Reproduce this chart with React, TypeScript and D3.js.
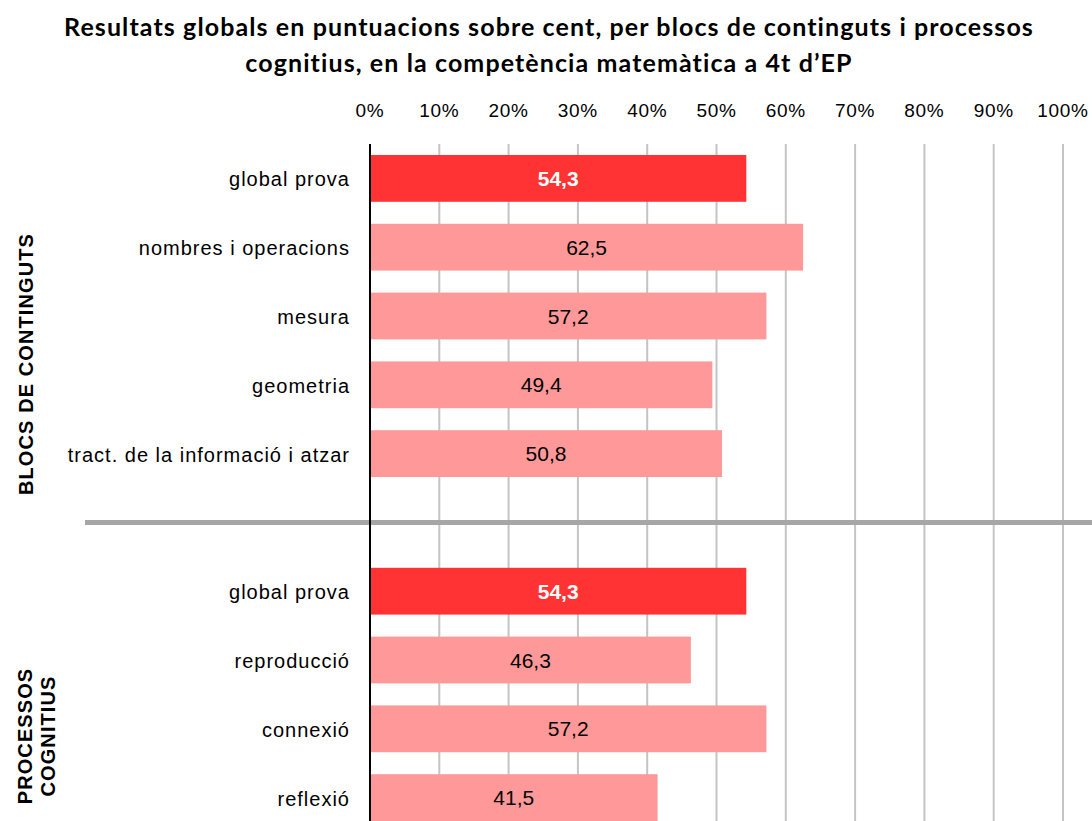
import React, { useEffect, useRef } from 'react';
import * as d3 from 'd3';

const titleLines = [
  'Resultats globals en puntuacions sobre cent, per blocs de continguts i processos',
  'cognitius, en la competència matemàtica a 4t d\u2019EP',
];

const blocCategories = ['global prova', 'nombres i operacions', 'mesura', 'geometria', 'tract. de la informació i atzar'];
const blocValues = [54.3, 62.5, 57.2, 49.4, 50.8];

const procesCategories = ['global prova', 'reproducció', 'connexió', 'reflexió'];
const procesValues = [54.3, 46.3, 57.2, 41.5];

const tickValues = [0, 10, 20, 30, 40, 50, 60, 70, 80, 90, 100];

const W = 1092;
const H = 821;
const margin = { top: 144, left: 370, right: 29 };

const RED = '#ff3333';
const PINK = '#ff9999';

type Row = { key: string; label: string; value: number; total: boolean };

const App = () => {
  const ref = useRef<SVGSVGElement | null>(null);

  useEffect(() => {
    const node = ref.current;
    if (!node) return;
    node.innerHTML = '';

    const rows: Row[] = [
      ...blocCategories.map((c, i) => ({ key: 'b' + i, label: c, value: blocValues[i], total: i === 0 })),
      ...procesCategories.map((c, i) => ({ key: 'p' + i, label: c, value: procesValues[i], total: i === 0 })),
    ];
    // empty slot between the two groups holds the separator
    const domain = [...rows.slice(0, 5).map((r) => r.key), 'sep', ...rows.slice(5).map((r) => r.key)];

    const x = d3.scaleLinear().domain([0, 100]).range([margin.left, W - margin.right]);
    const step = 68.8;
    const y = d3
      .scaleBand()
      .domain(domain)
      .range([margin.top, margin.top + step * domain.length])
      .paddingInner(0.32)
      .paddingOuter(0.16);

    const svg = d3.select(node);
    const font = "'Liberation Sans', Arial, sans-serif";

    // title
    svg
      .append('g')
      .selectAll('text')
      .data(titleLines)
      .enter()
      .append('text')
      .attr('x', 549)
      .attr('y', (d, i) => 36 + i * 36)
      .attr('text-anchor', 'middle')
      .style('font-family', "Lato, 'Open Sans', sans-serif")
      .style('font-weight', 700)
      .style('font-size', '25px')
      .style('letter-spacing', '1.1px')
      .style('fill', '#000')
      .text((d) => d);

    // gridlines
    svg
      .append('g')
      .selectAll('line')
      .data(tickValues.slice(1))
      .enter()
      .append('line')
      .attr('x1', (d) => x(d))
      .attr('x2', (d) => x(d))
      .attr('y1', margin.top)
      .attr('y2', H)
      .style('stroke', '#c4c4c4')
      .style('stroke-width', 2);

    // tick labels
    svg
      .append('g')
      .selectAll('text')
      .data(tickValues)
      .enter()
      .append('text')
      .attr('x', (d) => x(d))
      .attr('y', 117)
      .attr('text-anchor', 'middle')
      .style('font-family', font)
      .style('font-size', '19px')
      .style('letter-spacing', '0.7px')
      .style('fill', '#000')
      .text((d) => d + '%');

    // separator between the two blocks
    const sepY = (y('sep') as number) + y.bandwidth() / 2;
    svg
      .append('line')
      .attr('x1', 85)
      .attr('x2', W)
      .attr('y1', sepY)
      .attr('y2', sepY)
      .style('stroke', '#a6a6a6')
      .style('stroke-width', 5);

    // bars
    svg
      .append('g')
      .selectAll('rect')
      .data(rows)
      .enter()
      .append('rect')
      .attr('x', x(0))
      .attr('y', (d) => y(d.key) as number)
      .attr('width', (d) => x(d.value) - x(0))
      .attr('height', y.bandwidth())
      .style('fill', (d) => (d.total ? RED : PINK));

    // value labels
    svg
      .append('g')
      .selectAll('text')
      .data(rows)
      .enter()
      .append('text')
      .attr('x', (d) => x(d.value / 2))
      .attr('y', (d) => (y(d.key) as number) + y.bandwidth() / 2)
      .attr('dy', '0.36em')
      .attr('text-anchor', 'middle')
      .style('font-family', font)
      .style('font-size', '21px')
      .style('font-weight', (d) => (d.total ? 700 : 400))
      .style('fill', (d) => (d.total ? '#fff' : '#000'))
      .text((d) => d3.format('.1f')(d.value).replace('.', ','));

    // category labels
    svg
      .append('g')
      .selectAll('text')
      .data(rows)
      .enter()
      .append('text')
      .attr('x', 350)
      .attr('y', (d) => (y(d.key) as number) + y.bandwidth() / 2)
      .attr('dy', '0.4em')
      .attr('text-anchor', 'end')
      .style('font-family', font)
      .style('font-size', '20px')
      .style('letter-spacing', '1px')
      .style('fill', '#000')
      .text((d) => d.label);

    // value axis line
    svg
      .append('line')
      .attr('x1', x(0))
      .attr('x2', x(0))
      .attr('y1', margin.top)
      .attr('y2', H)
      .style('stroke', '#000')
      .style('stroke-width', 2);

    // group labels
    const groupLabel = (lines: string[], cx: number, cy: number) => {
      const g = svg.append('g').attr('transform', `translate(${cx}, ${cy}) rotate(-90)`);
      g.selectAll('text')
        .data(lines)
        .enter()
        .append('text')
        .attr('x', 0)
        .attr('y', (d, i) => (i - (lines.length - 1) / 2) * 23)
        .attr('dy', '0.36em')
        .attr('text-anchor', 'middle')
        .style('font-family', font)
        .style('font-size', '20px')
        .style('font-weight', 700)
        .style('letter-spacing', '1.1px')
        .style('fill', '#000')
        .text((d) => d);
    };
    groupLabel(['BLOCS DE CONTINGUTS'], 26, 364);
    groupLabel(['PROCESSOS', 'COGNITIUS'], 36, 736);
  }, []);

  return (
    <div style={{ position: 'fixed', left: 0, top: 0, background: '#fff' }}>
      <svg ref={ref} width={W} height={H} style={{ display: 'block' }} />
    </div>
  );
};

export default App;
